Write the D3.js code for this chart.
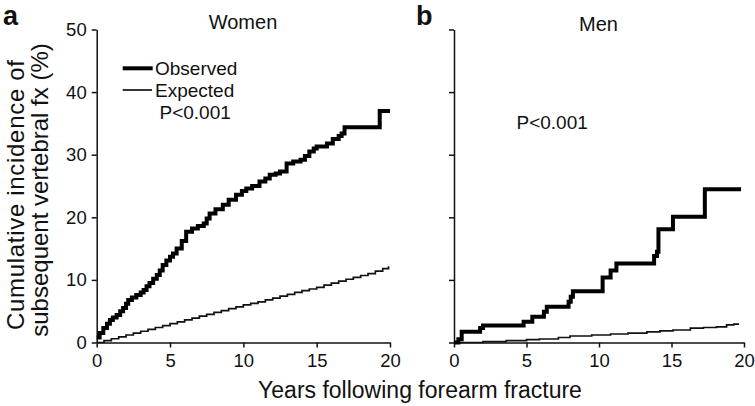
<!DOCTYPE html>
<html><head><meta charset="utf-8">
<script src="https://cdn.jsdelivr.net/npm/d3@7"></script>
<style>body{margin:0;background:#fff}svg{display:block}text{font-family:"Liberation Sans",Arial,sans-serif;fill:#111}</style>
</head><body><svg id="c" width="755" height="406"></svg>
<script>
// Women observed (years, %)
const womenObsYears = [0,0.2,0.45,0.7,0.9,1.1,1.36,1.6,1.8,2.0,2.15,2.4,2.7,3.0,3.2,3.4,3.6,3.85,4.1,4.3,4.5,4.75,5.0,5.2,5.45,5.8,6.1,6.5,6.9,7.3,7.5,7.7,8.1,8.6,9.0,9.5,9.9,10.2,10.6,11.1,11.5,11.8,12.2,12.5,12.95,13.4,13.9,14.2,14.5,14.8,15.0,15.7,16.1,16.5,16.7,16.9,19.3,20.0];
const womenObsVals  = [0.8,1.5,2.3,3.0,3.6,4.0,4.4,5.0,5.5,6.2,6.8,7.2,7.6,8.0,8.4,9.0,9.5,10.2,10.8,11.5,12.4,13.1,13.7,14.2,15.0,16.2,17.7,18.2,18.6,19.0,19.8,20.6,21.3,22.0,22.8,23.6,24.2,24.6,25.0,25.7,26.2,26.8,27.0,27.3,28.6,28.9,29.2,29.8,30.5,31.0,31.3,31.8,32.5,33.0,33.4,34.4,37.0,37.0];
// Women expected
const womenExpYears = [0,0.5,1,1.5,2,2.5,3,3.5,4,4.5,5,5.5,6,6.5,7,7.5,8,8.5,9,9.5,10,10.5,11,11.5,12,12.5,13,13.5,14,14.5,15,15.5,16,16.5,17,17.5,18,18.5,19,19.5,19.9];
const womenExpVals  = [0,0.3,0.6,0.9,1.2,1.5,1.8,2.1,2.4,2.7,3.0,3.3,3.6,3.9,4.2,4.5,4.8,5.1,5.4,5.7,6.0,6.25,6.5,6.8,7.1,7.4,7.7,8.0,8.3,8.55,8.8,9.15,9.5,9.8,10.1,10.4,10.7,11.0,11.4,11.8,12.2];
// Men observed
const menObsYears = [0,0.3,0.53,1.8,2.0,4.8,5.4,6.2,6.4,7.9,8.05,8.2,10.25,10.8,11.2,13.8,14.0,14.1,15.1,17.3,19.8];
const menObsVals  = [0,0.5,1.7,2.3,2.7,3.3,4.1,4.9,5.7,6.5,7.3,8.2,10.4,11.5,12.6,13.8,14.5,18.1,20.1,24.5,24.5];
// Men expected
const menExpYears = [0,0.4,2.0,3.6,5.0,5.9,7.2,8.0,9.5,10.8,12.0,13.3,14.2,15.1,16.3,17.2,18.1,18.8,19.3,19.6];
const menExpVals  = [0,0,0.15,0.3,0.45,0.56,0.8,1.04,1.2,1.36,1.5,1.7,1.85,2.0,2.3,2.4,2.5,2.8,2.95,3.07];

const xTicks = [0,5,10,15,20];
const yTicks = [0,10,20,30,40,50];

const svg = d3.select("#c");
const y = d3.scaleLinear().domain([0,50]).range([342.5,29.5]);
const xa = d3.scaleLinear().domain([0,20]).range([96.7,390]);
const xb = d3.scaleLinear().domain([0,20]).range([454,744]);

function panel(x, obsX, obsY, expX, expY, showLabels){
  const g = svg.append("g");
  const ya = d3.axisLeft(y).tickValues(yTicks).tickSize(5).tickSizeOuter(0).tickFormat(showLabels?d3.format("d"):"");
  const ay = g.append("g").attr("transform",`translate(${x(0)},0)`).call(ya);
  const xAx = d3.axisBottom(x).tickValues(xTicks).tickSize(5).tickSizeOuter(0);
  const ax = g.append("g").attr("transform",`translate(0,${y(0)})`).call(xAx);
  [ay,ax].forEach(a=>{a.select(".domain").attr("stroke","#111").attr("stroke-width",1.5);
    a.selectAll(".tick line").attr("stroke","#111").attr("stroke-width",1.5);
    a.selectAll("text").attr("font-size",18.5).attr("fill","#111").style("font-family",'"Liberation Sans",Arial,sans-serif');});
  ay.selectAll("text").attr("x",-10);
  ax.selectAll("text").attr("y",11);
  const line = d3.line().x(d=>x(d[0])).y(d=>y(d[1])).curve(d3.curveStepAfter);
  g.append("path").attr("d",line(expX.map((v,i)=>[v,expY[i]]))).attr("fill","none").attr("stroke","#111").attr("stroke-width",1.7);
  g.append("path").attr("d",line(obsX.map((v,i)=>[v,obsY[i]]))).attr("fill","none").attr("stroke","#000").attr("stroke-width",4);
}
panel(xa, womenObsYears, womenObsVals, womenExpYears, womenExpVals, true);
panel(xb, menObsYears, menObsVals, menExpYears, menExpVals, false);

// titles
svg.append("text").attr("x",3).attr("y",25).attr("font-size",27).attr("font-weight","bold").text("a");
svg.append("text").attr("x",416).attr("y",25).attr("font-size",27).attr("font-weight","bold").text("b");
svg.append("text").attr("x",243).attr("y",29).attr("font-size",20).attr("text-anchor","middle").text("Women");
svg.append("text").attr("x",598.5).attr("y",30.5).attr("font-size",20).attr("text-anchor","middle").text("Men");
// legend
svg.append("line").attr("x1",122.7).attr("x2",152.7).attr("y1",68.3).attr("y2",68.3).attr("stroke","#000").attr("stroke-width",4);
svg.append("line").attr("x1",122.7).attr("x2",152).attr("y1",90).attr("y2",90).attr("stroke","#111").attr("stroke-width",1.7);
svg.append("text").attr("x",155).attr("y",75).attr("font-size",19).text("Observed");
svg.append("text").attr("x",155).attr("y",97.3).attr("font-size",19).text("Expected");
svg.append("text").attr("x",159.5).attr("y",119.3).attr("font-size",19).text("P<0.001");
svg.append("text").attr("x",516.5).attr("y",129.3).attr("font-size",19).text("P<0.001");
// axis titles
svg.append("text").attr("x",420).attr("y",398).attr("font-size",23).attr("text-anchor","middle").text("Years following forearm fracture");
svg.append("text").attr("transform","translate(23.5,195) rotate(-90)").attr("font-size",24).attr("text-anchor","middle")
  .attr("textLength",270).attr("lengthAdjust","spacing").text("Cumulative incidence of");
svg.append("text").attr("transform","translate(47.5,190) rotate(-90)").attr("font-size",24).attr("text-anchor","middle").text("subsequent vertebral fx (%)");
</script></body></html>
